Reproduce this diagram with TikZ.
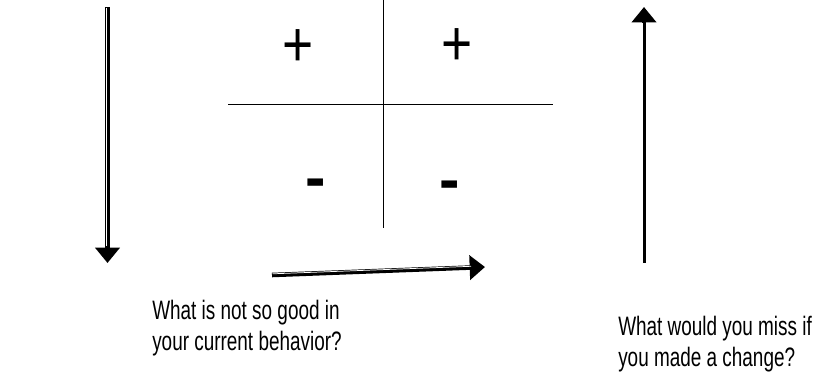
\documentclass[tikz,border=0pt]{standalone}
\usepackage{fontspec}
\setmainfont{Liberation Sans}
\newfontfamily\capfont[FakeStretch=0.71]{Liberation Sans}
\usetikzlibrary{arrows.meta}
\begin{document}
\begin{tikzpicture}[x=0.75pt,y=-0.75pt,
  bigarrow/.style={line width=3.4pt,-{Triangle[length=11.5pt,width=18pt]}},
  stripe/.style={white,line width=0.55pt},
  gridline/.style={line width=0.75pt},
  plussign/.style={inner sep=0pt,anchor=base,font=\fontsize{40pt}{40pt}\selectfont},
  minussign/.style={inner sep=0pt,anchor=base,font=\fontsize{46pt}{46pt}\selectfont\bfseries},
  caption/.style={inner sep=0pt,anchor=north west,align=left,font=\capfont\fontsize{20pt}{23pt}\selectfont}]
\path[use as bounding box,fill=white] (0,0) rectangle (816,376);
% grid
\coordinate (vt) at (383,0);
\coordinate (vb) at (383,228);
\coordinate (hl) at (228,104);
\coordinate (hr) at (553,104);
\draw[gridline] (vt) -- (vb);
\draw[gridline] (hl) -- (hr);
% signs
\node[plussign] (p1) at (298,66) {\scalebox{1}[1.2]{+}};
\node[plussign] (p2) at (457,65) {\scalebox{1}[1.2]{+}};
\node[minussign] (m1) at (315.5,198.5) {-};
\node[minussign] (m2) at (449.5,200.5) {-};
% arrows
\coordinate (la) at (107.5,7);
\coordinate (lb) at (107.5,263);
\draw[bigarrow] (la) -- (lb);
\coordinate (las) at (106.3,7.5);
\coordinate (lbs) at (106.3,246);
\draw[stripe] (las) -- (lbs);
\coordinate (ra) at (644,263);
\coordinate (rb) at (644,7);
\draw[bigarrow] (ra) -- (rb);
\coordinate (ras) at (642.6,262.5);
\coordinate (rbs) at (642.6,23);
\draw[stripe] (ras) -- (rbs);
\coordinate (ma) at (272,275);
\coordinate (mb) at (485,267);
\draw[bigarrow] (ma) -- (mb);
\coordinate (mas) at (272.5,273.8);
\coordinate (mbs) at (471,266.3);
\draw[stripe] (mas) -- (mbs);
% captions
\node[caption] (t1) at (152,300) {What is not so good in\\your current behavior?};
\node[caption] (t2) at (618,316) {What would you miss if\\you made a change?};
\end{tikzpicture}
\end{document}
